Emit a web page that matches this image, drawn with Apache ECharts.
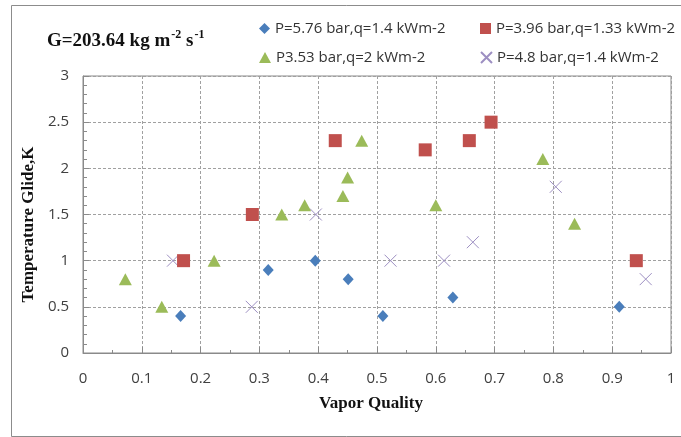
<!DOCTYPE html>
<html>
<head>
<meta charset="utf-8">
<script src="https://cdn.jsdelivr.net/npm/echarts@6/dist/echarts.min.js"></script>
<style>
html,body{margin:0;padding:0;background:#fff;}
#chart{width:681px;height:437px;}
</style>
</head>
<body>
<div id="chart"></div>
<script>
// ---- data ----
const seriesNames = [
  'P=5.76 bar,q=1.4 kWm-2',
  'P=3.96 bar,q=1.33 kWm-2',
  'P3.53 bar,q=2 kWm-2',
  'P=4.8 bar,q=1.4 kWm-2'
];
const xDiamond = [0.166, 0.315, 0.395, 0.451, 0.510, 0.629, 0.912];
const yDiamond = [0.4, 0.9, 1.0, 0.8, 0.4, 0.6, 0.5];
const xSquare = [0.171, 0.288, 0.429, 0.582, 0.657, 0.694, 0.941];
const ySquare = [1.0, 1.5, 2.3, 2.2, 2.3, 2.5, 1.0];
const xTriangle = [0.072, 0.134, 0.223, 0.338, 0.377, 0.442, 0.450, 0.474, 0.600, 0.782, 0.836];
const yTriangle = [0.8, 0.5, 1.0, 1.5, 1.6, 1.7, 1.9, 2.3, 1.6, 2.1, 1.4];
const xCross = [0.153, 0.287, 0.396, 0.523, 0.614, 0.663, 0.804, 0.957];
const yCross = [1.0, 0.5, 1.5, 1.0, 1.0, 1.2, 1.8, 0.8];
const xTicks = ['0','0.1','0.2','0.3','0.4','0.5','0.6','0.7','0.8','0.9','1'];
const yTicks = ['0','0.5','1','1.5','2','2.5','3'];

const pair = (xs, ys) => xs.map((x, i) => [x, ys[i]]);
const crossPath = 'path://M0,0L10,10M10,0L0,10';
const tickFont = '"Open Sans", sans-serif';
const serif = '"Liberation Serif", "DejaVu Serif", serif';

const chart = echarts.init(document.getElementById('chart'), null, {renderer: 'canvas'});
const legendText = {fontFamily: tickFont, fontSize: 15, color: '#333'};
const option = {
  backgroundColor: '#fff',
  animation: false,
  title: {
    left: 42, top: 24,
    text: '{a|G=203.64 kg m}{s|-2}{a| s}{s|-1}',
    textStyle: {
      rich: {
        a: {fontFamily: serif, fontWeight: 'bold', fontSize: 19, color: '#111', lineHeight: 22, verticalAlign: 'bottom'},
        s: {fontFamily: serif, fontWeight: 'bold', fontSize: 12, color: '#111', lineHeight: 22, verticalAlign: 'top', padding: [0, 0, 0, 1]}
      }
    }
  },
  legend: [
    {data: [seriesNames[0]], left: 254, top: 16, itemWidth: 11, itemHeight: 11, itemGap: 0, textStyle: legendText},
    {data: [seriesNames[1]], left: 475, top: 16, itemWidth: 11, itemHeight: 11, itemGap: 0, textStyle: legendText},
    {data: [seriesNames[2]], left: 254, top: 45, itemWidth: 12, itemHeight: 11, itemGap: 0, textStyle: legendText},
    {data: [seriesNames[3]], left: 475, top: 45, itemWidth: 11, itemHeight: 11, itemGap: 0, textStyle: legendText}
  ],
  grid: {
    left: 83, right: 10, top: 76, bottom: 84,
    show: true, borderColor: '#8a8a8a', borderWidth: 1, backgroundColor: 'transparent'
  },
  xAxis: {
    type: 'value', min: 0, max: 1, interval: 0.1,
    name: 'Vapor Quality', nameLocation: 'middle', nameGap: 42,
    nameTextStyle: {fontFamily: serif, fontWeight: 'bold', fontSize: 17, color: '#111', padding: [0, 12, 0, 0]},
    axisLine: {show: true, lineStyle: {color: '#8a8a8a'}},
    axisTick: {show: true, inside: true, length: 6, lineStyle: {color: '#8a8a8a'}},
    minorTick: {show: true, splitNumber: 2, length: 3, lineStyle: {color: '#8a8a8a'}},
    axisLabel: {
      margin: 18, fontFamily: tickFont, fontSize: 15, color: '#404040',
      formatter: (v) => xTicks[Math.round(v * 10)]
    },
    splitLine: {show: true, lineStyle: {color: '#a0a0a0', type: [3, 2], width: 1}}
  },
  yAxis: {
    type: 'value', min: 0, max: 3, interval: 0.5,
    name: 'Temperature Glide,K', nameLocation: 'middle', nameGap: 46,
    nameTextStyle: {fontFamily: serif, fontWeight: 'bold', fontSize: 17, color: '#111', padding: [0, 20, 0, 0]},
    axisLine: {show: true, lineStyle: {color: '#8a8a8a'}},
    axisTick: {show: true, inside: true, length: 6, lineStyle: {color: '#8a8a8a'}},
    minorTick: {show: true, splitNumber: 5, length: 4, lineStyle: {color: '#8a8a8a'}},
    axisLabel: {
      margin: 14, fontFamily: tickFont, fontSize: 15, color: '#404040',
      formatter: (v) => yTicks[Math.round(v * 2)]
    },
    splitLine: {show: true, lineStyle: {color: '#a0a0a0', type: [3, 2], width: 1}}
  },
  graphic: [{
    type: 'rect', left: 9, top: 3, silent: true,
    shape: {width: 700, height: 431},
    style: {fill: 'none', stroke: '#8c8c8c', lineWidth: 1}
  }],
  series: [
    {name: seriesNames[3], type: 'scatter', z: 2, data: pair(xCross, yCross),
     symbol: crossPath, symbolSize: 12,
     itemStyle: {color: 'rgba(0,0,0,0)', borderColor: '#9d8fc2', borderWidth: 1, opacity: 1}},
    {name: seriesNames[0], type: 'scatter', z: 3, data: pair(xDiamond, yDiamond),
     symbol: 'diamond', symbolSize: [11, 12], itemStyle: {color: '#4a7ebb', opacity: 1}},
    {name: seriesNames[1], type: 'scatter', z: 4, data: pair(xSquare, ySquare),
     symbol: 'rect', symbolSize: 13, itemStyle: {color: '#c0504d', opacity: 1}},
    {name: seriesNames[2], type: 'scatter', z: 3, data: pair(xTriangle, yTriangle),
     symbol: 'triangle', symbolSize: [13, 12], itemStyle: {color: '#9bbb59', opacity: 1}}
  ]
};
chart.setOption(option);
</script>
</body>
</html>
